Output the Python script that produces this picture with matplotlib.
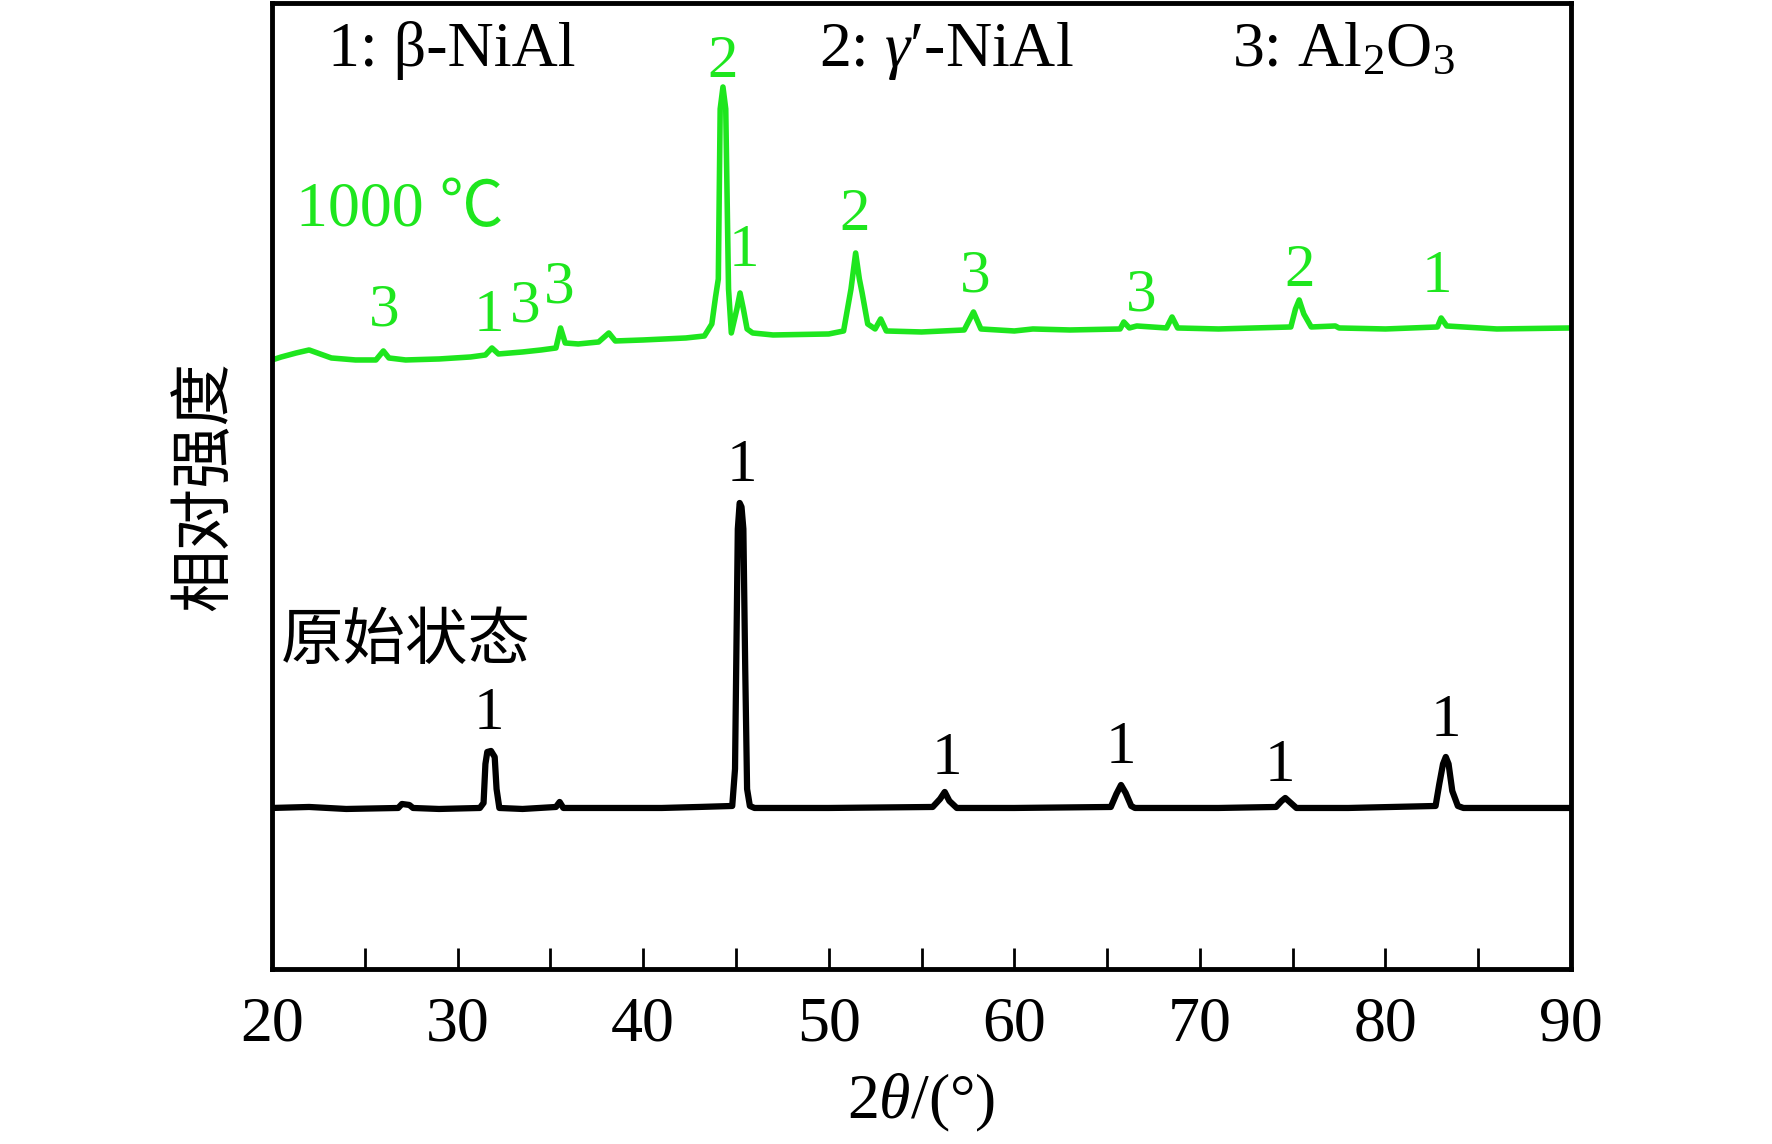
import matplotlib
matplotlib.use("Agg")
import matplotlib.pyplot as plt
import numpy as np

plt.rcParams["font.family"] = ["Liberation Serif", "Noto Sans CJK SC", "DejaVu Sans"]
plt.rcParams["mathtext.fontset"] = "custom"
plt.rcParams["mathtext.rm"] = "Liberation Serif"
plt.rcParams["mathtext.it"] = "Liberation Serif:italic"

GREEN = "#1ee61e"

# 原始状态 (as-received) trace: 2theta, relative intensity
raw_2t = [20.0, 22.0, 24.0, 26.8, 27.0, 27.4, 27.6, 29.0, 31.2, 31.4, 31.5, 31.6,
          31.8, 32.0, 32.1, 32.25, 33.5, 35.3, 35.5, 35.7, 38.0, 41.0, 43.0, 44.8,
          44.95, 45.1, 45.2, 45.3, 45.4, 45.5, 45.6, 45.75, 46.0, 50.0, 55.6, 56.0,
          56.25, 56.5, 56.9, 60.0, 65.2, 65.5, 65.75, 66.0, 66.3, 66.5, 71.0, 74.1,
          74.4, 74.6, 74.9, 75.2, 78.0, 82.7, 82.9, 83.1, 83.25, 83.4, 83.6, 83.9,
          84.2, 90.0]
raw_int = [161, 162, 160, 161, 165, 164, 161, 160, 161, 166, 205, 217,
           218, 212, 180, 161, 160, 162, 167, 161, 161, 161, 162, 163,
           200, 440, 466, 462, 440, 300, 180, 163, 161, 161, 162, 170,
           177, 168, 161, 161, 162, 175, 184, 176, 163, 161, 161, 162,
           168, 171, 166, 161, 161, 163, 185, 205, 212, 205, 178, 163,
           161, 161]

# 1000 °C trace
hot_2t = [20.0, 20.5, 21.3, 22.0, 22.6, 23.2, 24.5, 25.6, 26.0, 26.3, 27.2, 29.0,
          30.7, 31.5, 31.85, 32.2, 33.5, 34.5, 35.3, 35.55, 35.8, 36.5, 37.6, 38.15,
          38.5, 40.0, 42.3, 43.3, 43.7, 43.9, 44.05, 44.15, 44.3, 44.45, 44.6, 44.75,
          45.05, 45.22, 45.4, 45.6, 45.9, 47.0, 50.0, 50.8, 51.2, 51.45, 51.65, 51.8,
          52.1, 52.5, 52.8, 53.1, 55.0, 57.3, 57.8, 58.2, 60.0, 61.0, 63.0, 65.7,
          65.9, 66.2, 66.6, 68.2, 68.5, 68.8, 71.0, 74.9, 75.15, 75.35, 75.6, 76.0,
          77.3, 77.5, 80.0, 82.8, 83.0, 83.3, 86.0, 90.0]
hot_int = [609, 612, 616, 619, 615, 611, 609, 609, 618, 611, 609, 610,
           612, 614, 621, 615, 617, 619, 621, 641, 626, 625, 627, 636,
           628, 629, 631, 633, 645, 672, 690, 860, 882, 860, 680, 636,
           660, 676, 660, 640, 636, 634, 635, 638, 680, 716, 690, 676,
           645, 640, 650, 638, 637, 639, 657, 640, 638, 640, 639, 640,
           647, 641, 643, 641, 652, 641, 640, 642, 660, 669, 655, 642,
           643, 641, 640, 642, 651, 643, 640, 641]

# phase labels over peaks
raw_lab_2t = [31.69, 45.33, 56.37, 65.75, 74.32, 83.27]
raw_lab_int = [255, 503, 210, 221, 203, 248]
raw_lab = ["1", "1", "1", "1", "1", "1"]

hot_lab_2t = [44.3, 45.43, 51.42, 57.88, 66.83, 75.4, 82.78, 26.04, 31.69, 33.63, 35.47]
hot_lab_int = [907, 718, 754, 692, 673, 698, 692, 658, 653, 662, 681]
hot_lab = ["2", "1", "2", "3", "3", "2", "1", "3", "1", "3", "3"]

phase_2t = [23.0, 49.48, 71.73]
phase_txt = ["1: β-NiAl", "2: $\\gamma$′-NiAl", "3: Al$_2$O$_3$"]

fig = plt.figure(figsize=(17.72, 11.44), dpi=100)
ax = fig.add_axes([0.1535, 0.1530, 0.7331, 0.8444])

ax.plot(raw_2t, raw_int, color="black", lw=4.5, solid_joinstyle="round")
ax.plot(hot_2t, hot_int, color=GREEN, lw=4.0, solid_joinstyle="round")

for x, y, s in zip(raw_lab_2t, raw_lab_int, raw_lab):
    ax.text(x, y, s, ha="center", va="center", fontsize=44, color="black")
for x, y, s in zip(hot_lab_2t, hot_lab_int, hot_lab):
    ax.text(x, y, s, ha="center", va="center", fontsize=44, color=GREEN)
for x, s in zip(phase_2t, phase_txt):
    ax.text(x, 918, s, ha="left", va="center", fontsize=46, color="black")

ax.text(21.3, 758, "1000 ℃", ha="left", va="center", fontsize=46, color=GREEN)
ax.text(20.45, 325, "原始状态", ha="left", va="center", fontsize=45, color="black")

ax.set_xlim(20, 90)
ax.set_ylim(0, 966)
ax.set_xticks(np.arange(20, 91, 10))
ax.set_xticks(np.arange(25, 90, 10), minor=True)
ax.tick_params(axis="x", which="both", direction="in", length=15, width=2,
               labelsize=46, pad=20, top=False)
ax.set_yticks([])
for sp in ax.spines.values():
    sp.set_linewidth(3.5)

ax.set_xlabel("2$\\theta$/(°)", fontsize=46, labelpad=12)
ax.set_ylabel("相对强度", fontsize=45, labelpad=26)

fig.savefig("out.png", dpi=100)
